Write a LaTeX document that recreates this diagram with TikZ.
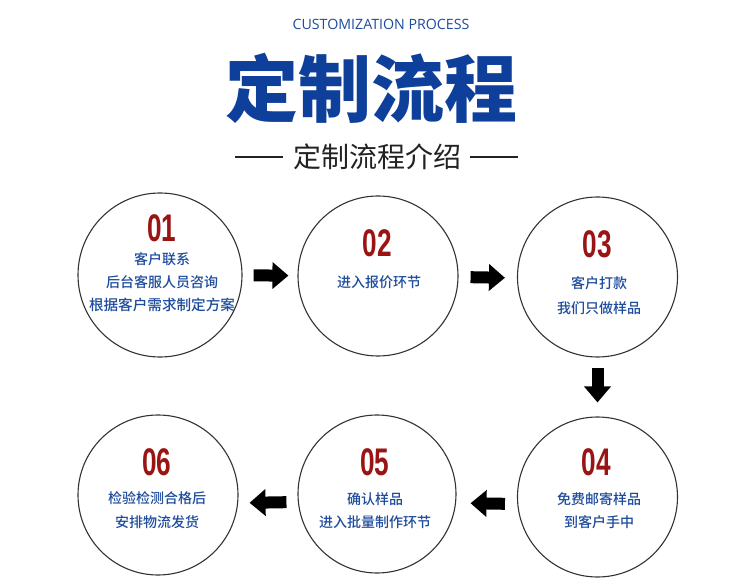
\documentclass[tikz,border=0pt]{standalone}
\usepackage{fontspec}
\usetikzlibrary{arrows.meta}
\newfontfamily\cjk{Noto Sans CJK SC}
\newfontfamily\cjkmed{Noto Sans CJK SC Medium}
\newfontfamily\latinfont{Open Sans}
\newfontfamily\numfont{Liberation Sans}
\definecolor{titleblue}{HTML}{0D3F9B}
\definecolor{textblue}{HTML}{1E4C9C}
\definecolor{numred}{HTML}{9B1414}
\definecolor{ringgray}{HTML}{333333}
\definecolor{subgray}{HTML}{222222}
\tikzset{
  stepcircle/.style={circle, draw=ringgray, line width=1.1pt, minimum size=160pt, inner sep=0pt},
  stepnum/.style={font=\numfont\bfseries\fontsize{38.5}{40}\selectfont, text=numred, inner sep=0pt},
  bodytext/.style={font=\cjkmed\fontsize{14}{23}\selectfont, text=textblue, align=center, inner sep=0pt},
  blockarrow/.style={line width=12pt, black, -{Triangle[length=16pt,width=26pt]}},
  rule/.style={line width=2pt, subgray}
}
\newcommand{\stepnumber}[1]{\scalebox{0.68}[1]{#1}}
\begin{document}
\begin{tikzpicture}[x=1pt,y=-1pt]
\useasboundingbox[fill=white] (0,0) rectangle (750,585);

% headings
\node[font=\latinfont\fontsize{14.2}{16}\selectfont, text=textblue] (en) at (381,24) {CUSTOMIZATION PROCESS};
\node[font=\cjk\bfseries\fontsize{73}{80}\selectfont, text=titleblue] (title) at (371,88) {定制流程};
\node[font=\cjk\fontsize{28}{32}\selectfont, text=subgray] (sub) at (377,157) {定制流程介绍};
\coordinate (l1) at (235,157); \coordinate (l2) at (283,157);
\coordinate (r1) at (470,157); \coordinate (r2) at (518,157);
\draw[rule] (l1) -- (l2);
\draw[rule] (r1) -- (r2);

% circles
\node[stepcircle, minimum size=164pt] (c1) at (160,275) {};
\node[stepcircle] (c2) at (378,276) {};
\node[stepcircle] (c3) at (597.5,277) {};
\node[stepcircle] (c4) at (597.5,497) {};
\node[stepcircle, minimum size=158pt] (c5) at (377,494) {};
\node[stepcircle] (c6) at (158,495) {};

% numbers
\node[stepnum] (n1) at (162,228) {\stepnumber{01}};
\node[stepnum] (n2) at (377,243) {\stepnumber{02}};
\node[stepnum] (n3) at (597,244) {\stepnumber{03}};
\node[stepnum] (n4) at (596,462) {\stepnumber{04}};
\node[stepnum] (n5) at (375,462) {\stepnumber{05}};
\node[stepnum] (n6) at (157,462) {\stepnumber{06}};

% texts
\node[bodytext] (t1) at (162,282) {客户联系\\后台客服人员咨询\\{\fontsize{14.6}{23}\selectfont 根据客户需求制定方案}};
\node[bodytext] (t2) at (379,282) {进入报价环节};
\node[bodytext, font=\cjkmed\fontsize{14}{25}\selectfont] (t3) at (599,295.5) {客户打款\\我们只做样品};
\node[bodytext] (t4) at (599,510.5) {免费邮寄样品\\到客户手中};
\node[bodytext] (t5) at (375,510.5) {确认样品\\进入批量制作环节};
\node[bodytext, font=\cjkmed\fontsize{14}{24}\selectfont] (t6) at (157,510) {检验检测合格后\\安排物流发货};

% arrows
\draw[blockarrow, shorten <=11pt, shorten >=9pt] (c1) -- (c2);
\draw[blockarrow, shorten <=12pt, shorten >=12pt] ([yshift=-1pt]c2.east) -- ([yshift=-1pt]c3.west);
\draw[blockarrow, shorten <=10pt, shorten >=14pt] (c3) -- (c4);
\draw[blockarrow, shorten <=12pt, shorten >=14pt] ([yshift=-7pt]c4.west) -- ([yshift=-9pt]c5.east);
\draw[blockarrow, shorten <=11pt, shorten >=11pt] ([yshift=-8pt]c5.west) -- ([yshift=-8pt]c6.east);
\end{tikzpicture}
\end{document}
